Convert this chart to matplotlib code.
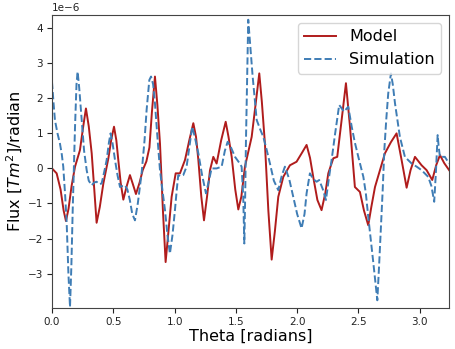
import numpy as np
import matplotlib
matplotlib.use("Agg")
import matplotlib.pyplot as plt

# ==========================
# Data
# ==========================

model_theta = [
    0.000, 0.038, 0.070, 0.095, 0.114, 0.135, 0.160, 0.188, 0.228, 0.255,
    0.277, 0.300, 0.324, 0.345, 0.364, 0.390, 0.419, 0.460, 0.485, 0.506,
    0.525, 0.541, 0.560, 0.582, 0.610, 0.636, 0.660, 0.685, 0.715, 0.740,
    0.770, 0.795, 0.815, 0.840, 0.860, 0.881, 0.905, 0.927, 0.950, 0.976,
    1.009, 1.044, 1.085, 1.120, 1.153, 1.175, 1.194, 1.218, 1.240, 1.265,
    1.289, 1.316, 1.343, 1.380, 1.417, 1.440, 1.466, 1.495, 1.520, 1.545,
    1.574, 1.629, 1.660, 1.691, 1.712, 1.737, 1.765, 1.792, 1.818, 1.846,
    1.887, 1.941, 1.995, 2.040, 2.077, 2.105, 2.131, 2.165, 2.199, 2.230,
    2.254, 2.295, 2.327, 2.360, 2.398, 2.431, 2.471, 2.512, 2.545, 2.580,
    2.605, 2.635, 2.716, 2.765, 2.811, 2.852, 2.893, 2.925, 2.961, 3.015,
    3.056, 3.102, 3.135, 3.165, 3.200, 3.240,
]
model_flux = [
    0.00, -0.14, -0.60, -1.20, -1.50, -1.15, -0.50, 0.05, 0.52, 1.20,
    1.71, 1.20, 0.43, -0.60, -1.55, -1.10, -0.43, 0.29, 0.85, 1.19,
    0.80, 0.24, -0.40, -0.89, -0.50, -0.19, -0.45, -0.73, -0.40, -0.05,
    0.20, 0.60, 1.60, 2.62, 1.80, 0.71, -1.20, -2.67, -1.80, -0.81,
    -0.14, -0.14, 0.24, 0.80, 1.29, 0.90, 0.24, -0.80, -1.48, -0.80,
    -0.05, 0.33, 0.14, 0.80, 1.33, 0.90, 0.33, -0.60, -1.17, -0.80,
    0.05, 0.90, 1.80, 2.71, 1.90, 0.71, -1.20, -2.60, -1.80, -0.81,
    -0.24, 0.09, 0.19, 0.45, 0.67, 0.30, -0.24, -0.90, -1.19, -0.70,
    -0.14, 0.29, 0.33, 1.30, 2.43, 1.19, -0.53, -0.67, -1.20, -1.62,
    -1.10, -0.53, 0.43, 0.75, 1.00, 0.24, -0.55, -0.05, 0.33, 0.09,
    -0.05, -0.33, 0.10, 0.38, 0.15, -0.05,
]

sim_theta = [
    0.000, 0.012, 0.024, 0.045, 0.065, 0.080, 0.092, 0.108, 0.120, 0.134,
    0.147, 0.158, 0.169, 0.188, 0.200, 0.209, 0.222, 0.242, 0.262, 0.283,
    0.300, 0.324, 0.345, 0.364, 0.385, 0.405, 0.426, 0.446, 0.465, 0.478,
    0.495, 0.514, 0.535, 0.555, 0.575, 0.595, 0.615, 0.635, 0.655, 0.677,
    0.700, 0.731, 0.755, 0.772, 0.794, 0.808, 0.825, 0.840, 0.860, 0.881,
    0.902, 0.922, 0.942, 0.962, 0.983, 1.003, 1.018, 1.030, 1.050, 1.071,
    1.098, 1.120, 1.144, 1.165, 1.194, 1.225, 1.256, 1.280, 1.302, 1.343,
    1.384, 1.410, 1.433, 1.460, 1.493, 1.530, 1.547, 1.560, 1.569, 1.576,
    1.582, 1.592, 1.601, 1.615, 1.637, 1.670, 1.700, 1.724, 1.750, 1.778,
    1.810, 1.846, 1.875, 1.900, 1.935, 1.968, 2.000, 2.036, 2.060, 2.077,
    2.104, 2.130, 2.159, 2.180, 2.210, 2.235, 2.258, 2.281, 2.310, 2.343,
    2.382, 2.417, 2.445, 2.470, 2.499, 2.540, 2.560, 2.580, 2.600, 2.622,
    2.640, 2.654, 2.668, 2.683, 2.698, 2.711, 2.727, 2.743, 2.765, 2.780,
    2.798, 2.838, 2.879, 2.934, 2.975, 3.015, 3.069, 3.095, 3.118, 3.132,
    3.146, 3.155, 3.165, 3.205, 3.240,
]
sim_flux = [
    2.47, 1.90, 1.38, 1.00, 0.71, 0.40, 0.05, -0.80, -1.57, -3.00,
    -3.95, -2.80, -1.19, 1.19, 2.40, 2.76, 2.30, 1.38, 0.50, -0.05,
    -0.35, -0.48, -0.40, -0.38, -0.45, -0.43, -0.10, 0.24, 0.75, 1.00,
    0.70, 0.24, -0.20, -0.53, -0.50, -0.48, -0.60, -0.90, -1.30, -1.48,
    -1.00, -0.14, 0.80, 1.67, 2.52, 2.62, 2.40, 1.86, 0.90, -0.05,
    -0.65, -1.19, -1.90, -2.43, -1.90, -1.19, -0.60, -0.19, -0.22, -0.19,
    0.05, 0.60, 1.19, 0.90, 0.43, -0.20, -0.71, -0.35, 0.00, 0.00,
    0.05, 0.50, 0.76, 0.60, 0.33, 0.15, 0.05, -0.80, -2.14, -0.80,
    0.71, 2.60, 4.24, 3.60, 2.62, 1.38, 1.10, 0.90, 0.55, 0.14,
    -0.35, -0.62, -0.20, 0.05, -0.30, -0.81, -1.30, -1.71, -1.30, -0.71,
    -0.14, -0.30, -0.38, -0.33, -0.60, -0.90, -0.30, 0.24, 1.00, 1.81,
    1.62, 1.76, 1.19, 0.75, 0.33, -0.24, -0.70, -1.38, -2.00, -2.71,
    -3.30, -3.76, -2.80, -1.67, -0.60, 0.52, 1.40, 2.14, 2.71, 2.40,
    1.86, 0.90, 0.33, 0.14, 0.05, -0.05, -0.24, -0.50, -0.95, -0.10,
    0.95, 0.60, 0.33, 0.33, 0.14,
]

# values on the chart are in units of 1e-6
scale = 1e-6

# ==========================
# Plot
# ==========================

fig = plt.figure(figsize=(4.56, 3.49), dpi=100)
ax = fig.add_axes([0.114, 0.1175, 0.871, 0.84])

ax.plot(model_theta, np.array(model_flux) * scale,
        color="#b01c1c", linewidth=1.4, label="Model")
ax.plot(sim_theta, np.array(sim_flux) * scale,
        color="#3f7db5", linewidth=1.4, linestyle="--", label="Simulation")

ax.set_xlim(0, 3.24)
ax.set_ylim(-3.98e-6, 4.38e-6)

ax.set_xticks([0.0, 0.5, 1.0, 1.5, 2.0, 2.5, 3.0])
ax.tick_params(labelsize=7.5, colors="#222222", pad=3)
ax.yaxis.get_offset_text().set_fontsize(7.5)

for side in ax.spines.values():
    side.set_color("#444444")

ax.set_xlabel("Theta [radians]", fontsize=11.5, labelpad=1)
ax.set_ylabel("Flux [$Tm^2$]/radian", fontsize=11.5, labelpad=2)

ax.legend(loc="upper right", fontsize=11.5)

fig.savefig("out.png", dpi=100)
